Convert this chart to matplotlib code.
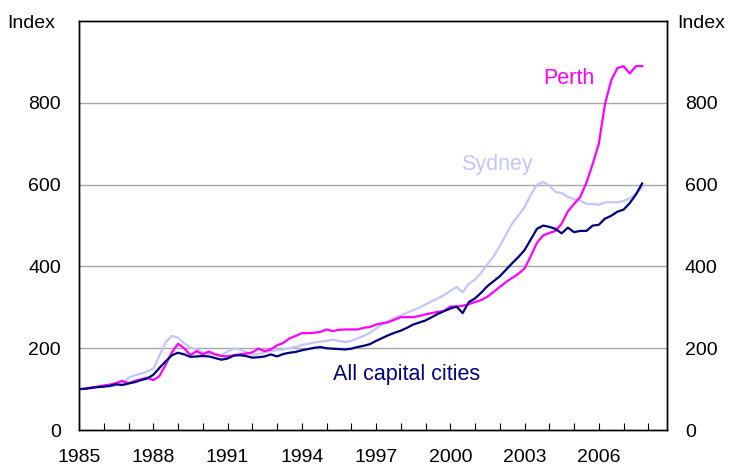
import matplotlib
matplotlib.use("Agg")
import matplotlib.pyplot as plt
import numpy as np

# Quarterly dwelling price indices, 1985 Q1 = 100
start_year = 1985
all_capitals = [
    100, 101, 103, 105,
    106, 108, 112, 110,
    114, 117, 122, 126,
    135, 152, 168, 183,
    189, 185, 179, 180,
    181, 180, 176, 172,
    175, 182, 183, 181,
    177, 178, 180, 185,
    180, 186, 189, 191,
    195, 198, 201, 203,
    200, 199, 198, 197,
    199, 203, 206, 210,
    218, 225, 232, 238,
    243, 250, 258, 263,
    268, 276, 284, 291,
    297, 302, 286, 313,
    322, 336, 352, 364,
    376, 392, 408, 423,
    440, 466, 492, 500,
    497, 492, 481, 495,
    484, 487, 487, 500,
    502, 517, 524, 534,
    539, 555, 576, 603,
]
perth = [
    100, 101, 104, 106,
    109, 111, 115, 120,
    114, 120, 124, 128,
    122, 132, 160, 190,
    211, 200, 183, 193,
    185, 192, 185, 181,
    180, 183, 185, 187,
    190, 199, 193, 197,
    207, 213, 224, 230,
    237, 237, 238, 240,
    246, 242, 245, 246,
    246, 246, 250, 252,
    258, 261, 264, 270,
    276, 276, 276, 279,
    283, 286, 289, 291,
    302, 302, 304, 308,
    313, 318, 326, 338,
    350, 362, 372, 382,
    395, 425, 458, 476,
    482, 487, 505, 535,
    553, 570, 605, 650,
    700, 797, 855, 885,
    890, 872, 890, 890,
]
sydney = [
    100, 101, 103, 105,
    106, 107, 109, 112,
    128, 134, 138, 143,
    150, 182, 215, 230,
    226, 212, 202, 197,
    190, 187, 185, 183,
    192, 199, 197, 191,
    184, 186, 190, 193,
    195, 197, 200, 203,
    208, 211, 214, 216,
    218, 221, 218, 215,
    218, 224, 230, 238,
    248, 258, 266, 274,
    280, 287, 293, 299,
    307, 315, 322, 330,
    340, 350, 337, 358,
    368, 385, 405, 425,
    450, 478, 505, 525,
    545, 575, 600, 607,
    598, 582, 580, 570,
    565, 561, 553, 553,
    551, 557, 557, 557,
    560, 567, 578, 593,
]
year_labels = [1985, 1988, 1991, 1994, 1997, 2000, 2003, 2006]
y_ticks = [0, 200, 400, 600, 800]

plt.rcParams["font.family"] = ["Liberation Sans", "DejaVu Sans"]

quarters = start_year + np.arange(len(all_capitals)) * 0.25

fig = plt.figure(figsize=(7.32, 4.71), dpi=100)
ax = fig.add_axes([0.108, 0.087, 0.803, 0.868])

ax.plot(quarters, sydney, color="#c4c4ff", lw=1.6, zorder=3)
ax.plot(quarters, perth, color="#ff00ff", lw=1.6, zorder=4)
ax.plot(quarters, all_capitals, color="#000080", lw=1.6, zorder=5)

ax.set_xlim(1985, 2008.75)
ax.set_ylim(0, 1000)

ax.set_xticks(year_labels)
ax.set_xticklabels([str(y) for y in year_labels])
ax.set_xticks(np.arange(1985, 2009), minor=True)
ax.tick_params(axis="x", which="both", direction="in", length=5, width=0.8,
               labelsize=14, pad=14)

ax.set_yticks(y_ticks)
ax.tick_params(axis="y", length=0, labelsize=14, pad=13)
for v in y_ticks[1:]:
    ax.axhline(v, color="#a6a6a6", lw=1, zorder=1)

ax2 = ax.twinx()
ax2.set_ylim(0, 1000)
ax2.set_yticks(y_ticks)
ax2.tick_params(axis="y", length=0, labelsize=14, pad=13)

for a in (ax, ax2):
    for s in a.spines.values():
        s.set_linewidth(1)
        s.set_color("black")

fig.text(0.042, 0.950, "Index", fontsize=14, ha="center", va="center")
fig.text(0.958, 0.950, "Index", fontsize=14, ha="center", va="center")

ax.text(2004.8, 860, "Perth", color="#ff00ff", fontsize=15.5, ha="center", va="center")
ax.text(2001.9, 650, "Sydney", color="#c4c4ff", fontsize=15.5, ha="center", va="center")
ax.text(1998.25, 135, "All capital cities", color="#000080", fontsize=15.5,
        ha="center", va="center")

fig.savefig("out.png", dpi=100)
